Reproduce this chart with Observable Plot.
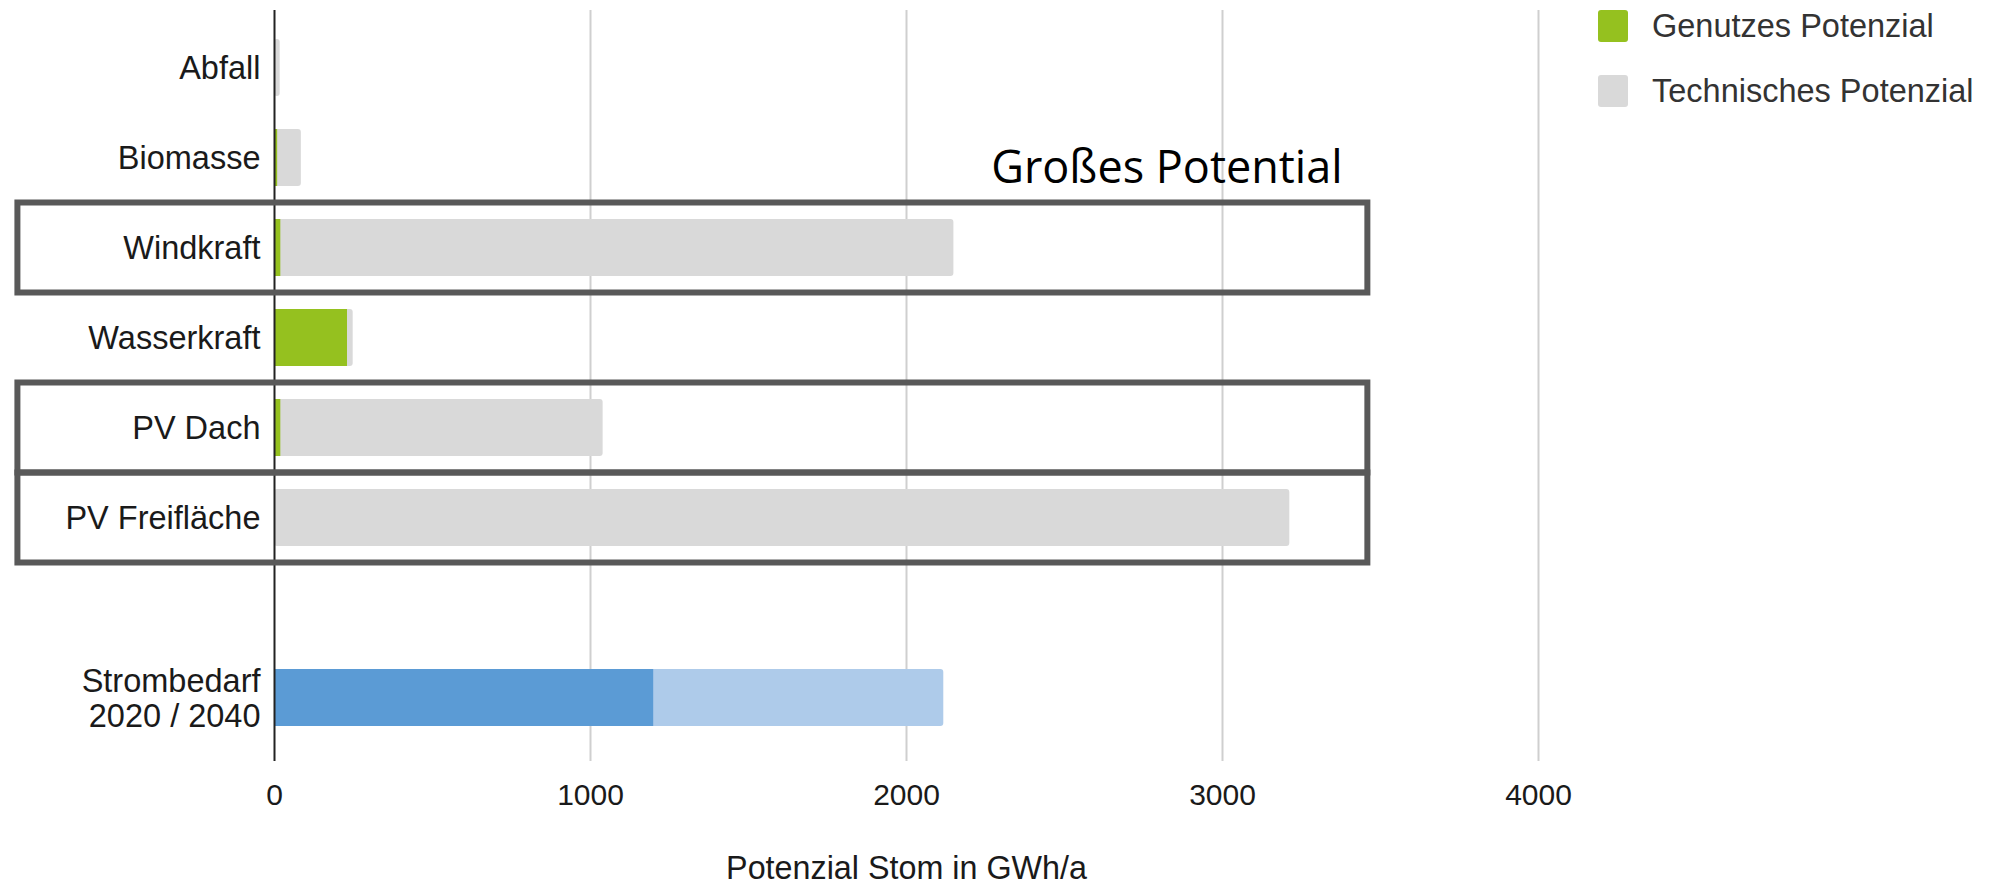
<!DOCTYPE html>
<html>
<head>
<meta charset="utf-8">
<script src="https://cdn.jsdelivr.net/npm/d3@7"></script>
<script src="https://cdn.jsdelivr.net/npm/@observablehq/plot@0.6"></script>
<style>
  html, body { margin: 0; padding: 0; background: #fff; }
  #wrap { position: relative; width: 1990px; height: 895px; overflow: hidden; }
  #wrap svg { display: block; }
  .legend { position: absolute; left: 1598px; top: 10px; font-family: "Liberation Sans", Arial, sans-serif; font-size: 32.5px; color: #333; }
  .legend .item { display: flex; align-items: center; height: 32px; margin-bottom: 33px; }
  .legend .sw { width: 30px; height: 32px; border-radius: 3px; margin-right: 24px; }
</style>
</head>
<body>
<div id="wrap"></div>
<script>
// ---- data ----
const categories = ["Abfall", "Biomasse", "Windkraft", "Wasserkraft", "PV Dach", "PV Freifläche", " ", "Strombedarf\n2020 / 2040"];
const sources = ["Abfall", "Biomasse", "Windkraft", "Wasserkraft", "PV Dach", "PV Freifläche"];
const technischesPotenzial = [18, 85, 2150, 249, 1040, 3213];
const genutztesPotenzial = [0, 10, 20, 231, 20, 0];
const demandLabel = "Strombedarf\n2020 / 2040";
const demand2020 = 1200;
const demand2040 = 2118;
const highlighted = ["Windkraft", "PV Dach", "PV Freifläche"];
const xTicks = [0, 1000, 2000, 3000, 4000];
const legendLabels = ["Genutzes Potenzial", "Technisches Potenzial"];
const annotation = "Großes Potential";
const xTitle = "Potenzial Stom in GWh/a";

const GREEN = "#95c11f", GRAY = "#d9d9d9", BLUE = "#5b9bd5", LIGHTBLUE = "#aecbea";

const tech = sources.map((c, i) => ({cat: c, value: technischesPotenzial[i]}));
const used = sources.map((c, i) => ({cat: c, value: genutztesPotenzial[i]}));
const demand = [{cat: demandLabel, v2020: demand2020, v2040: demand2040}];

const chart = Plot.plot({
  width: 1990,
  height: 895,
  marginLeft: 274,
  marginRight: 452,
  marginTop: 10,
  marginBottom: 134,
  style: {fontFamily: "'Liberation Sans', Arial, sans-serif", fontSize: "32.5px", background: "#fff", color: "#1a1a1a"},
  x: {domain: [0, 4000]},
  y: {domain: categories, paddingInner: 0.367, paddingOuter: 0.351, align: 0.452},
  marks: [
    Plot.ruleX(xTicks.slice(1), {stroke: "#cfcfcf", strokeWidth: 2}),
    Plot.barX(tech, {x: "value", y: "cat", fill: GRAY, rx: 3}),
    Plot.barX(used, {x: "value", y: "cat", fill: GREEN}),
    Plot.barX(demand, {x: "v2040", y: "cat", fill: LIGHTBLUE, rx: 3}),
    Plot.barX(demand, {x: "v2020", y: "cat", fill: BLUE}),
    Plot.ruleX([0], {stroke: "#222", strokeWidth: 2}),
    Plot.barX(highlighted, {x1: () => -812, x2: () => 3460, y: d => d, insetTop: -16.5, insetBottom: -16.5,
      fill: "none", stroke: "#595959", strokeWidth: 6, ariaLabel: "highlight"}),
    Plot.axisX({ticks: xTicks, tickSize: 0, tickPadding: 22, tickFormat: d3.format("d"), label: null, fontSize: 30}),
    Plot.axisY({tickSize: 0, tickPadding: 14, label: null, lineHeight: 1.08}),
    Plot.text([xTitle], {frameAnchor: "bottom", dy: 117, fontSize: 32.3}),
    Plot.text([{t: annotation, x: 2268, y: "Biomasse"}], {x: "x", y: "y", text: "t", dy: 11, textAnchor: "start",
      fontFamily: "'Open Sans', sans-serif", fontSize: 45, fill: "#000"})
  ]
});

d3.select(chart).selectAll('g[aria-label="highlight"]').style("filter", "drop-shadow(4px 4px 3px rgba(0,0,0,0.35))");

const wrap = document.getElementById("wrap");
wrap.appendChild(chart);

const legend = document.createElement("div");
legend.className = "legend";
[GREEN, GRAY].forEach((c, i) => {
  const it = document.createElement("div");
  it.className = "item";
  const sw = document.createElement("div");
  sw.className = "sw";
  sw.style.background = c;
  const tx = document.createElement("span");
  tx.textContent = legendLabels[i];
  it.appendChild(sw); it.appendChild(tx);
  legend.appendChild(it);
});
wrap.appendChild(legend);
</script>
</body>
</html>
